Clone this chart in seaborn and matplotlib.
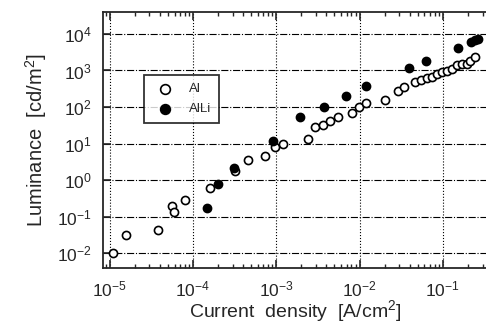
import numpy as np
import pandas as pd
import matplotlib
matplotlib.use("Agg")
import matplotlib.pyplot as plt
import seaborn as sns

# log10 values
al_logx = [-4.96, -4.80, -4.42, -4.25, -4.23, -4.10, -3.80, -3.49, -3.34, -3.14,
           -3.02, -2.92, -2.62, -2.53, -2.44, -2.35, -2.26, -2.09, -2.01, -1.92,
           -1.69, -1.54, -1.47, -1.33, -1.26, -1.19, -1.13, -1.07, -1.01, -0.95,
           -0.89, -0.83, -0.77, -0.71, -0.67, -0.61]
al_logy = [-2.00, -1.51, -1.37, -0.71, -0.87, -0.55, -0.21, 0.25, 0.55, 0.65,
           0.90, 0.99, 1.13, 1.45, 1.51, 1.63, 1.74, 1.83, 1.99, 2.10,
           2.18, 2.45, 2.54, 2.68, 2.75, 2.80, 2.82, 2.91, 2.97, 2.98,
           3.05, 3.14, 3.18, 3.19, 3.27, 3.36]
alli_logx = [-3.83, -3.70, -3.51, -3.04, -2.72, -2.43, -2.16, -1.92, -1.41, -1.20,
             -0.82, -0.66, -0.61, -0.58]
alli_logy = [-0.76, -0.12, 0.34, 1.08, 1.74, 2.01, 2.30, 2.57, 3.06, 3.27,
             3.61, 3.78, 3.84, 3.85]

al = pd.DataFrame({"J": 10 ** np.array(al_logx), "L": 10 ** np.array(al_logy)})
alli = pd.DataFrame({"J": 10 ** np.array(alli_logx), "L": 10 ** np.array(alli_logy)})

sns.set_style("ticks")
plt.rcParams["font.family"] = ["Liberation Sans", "DejaVu Sans"]
plt.rcParams["mathtext.fontset"] = "custom"
plt.rcParams["mathtext.rm"] = "Liberation Sans"
plt.rcParams["mathtext.it"] = "Liberation Sans"

fig = plt.figure(figsize=(4.86, 3.25), dpi=100)
ax = fig.add_axes([0.212, 0.175, 0.79, 0.788])

ax.set_xscale("log")
ax.set_yscale("log")

sns.scatterplot(x="J", y="L", data=al, ax=ax, s=34, facecolor="white",
                edgecolor="black", linewidth=1.2, label="Al", zorder=3)
sns.scatterplot(x="J", y="L", data=alli, ax=ax, s=34, color="black",
                edgecolor="black", linewidth=1.2, label="AlLi", zorder=3)

ax.set_xlim(10 ** -5.08, 10 ** -0.47)
ax.set_ylim(10 ** -2.41, 10 ** 4.6)
ax.set_xticks([1e-5, 1e-4, 1e-3, 1e-2, 1e-1])
ax.set_yticks([1e-2, 1e-1, 1e0, 1e1, 1e2, 1e3, 1e4])
ax.yaxis.set_minor_locator(matplotlib.ticker.NullLocator())

ax.grid(True, axis="y", which="major", color="black", linestyle="-.", linewidth=0.8)
ax.grid(True, axis="x", which="major", color="black", linestyle=":", linewidth=0.8)

ax.tick_params(which="both", direction="in", top=True, right=False, labelsize=12.5, pad=8)
ax.tick_params(which="major", length=6, width=1.2)
ax.tick_params(which="minor", length=3, width=1)
ax.spines["right"].set_visible(False)
for sp in ["left", "top", "bottom"]:
    ax.spines[sp].set_linewidth(1.3)

ax.set_xlabel("Current  density  [A/cm$^2$]", fontsize=14, labelpad=-1)
ax.set_ylabel("Luminance  [cd/m$^2$]", fontsize=14.5, labelpad=6)

leg = ax.legend(loc="upper left", bbox_to_anchor=(0.09, 0.78), frameon=True,
                fancybox=False, edgecolor="black", fontsize=9.5, handletextpad=0.8,
                borderpad=0.6, labelspacing=0.6, markerscale=1.2)
leg.get_frame().set_linewidth(1.3)

plt.savefig("out.png", dpi=100)
